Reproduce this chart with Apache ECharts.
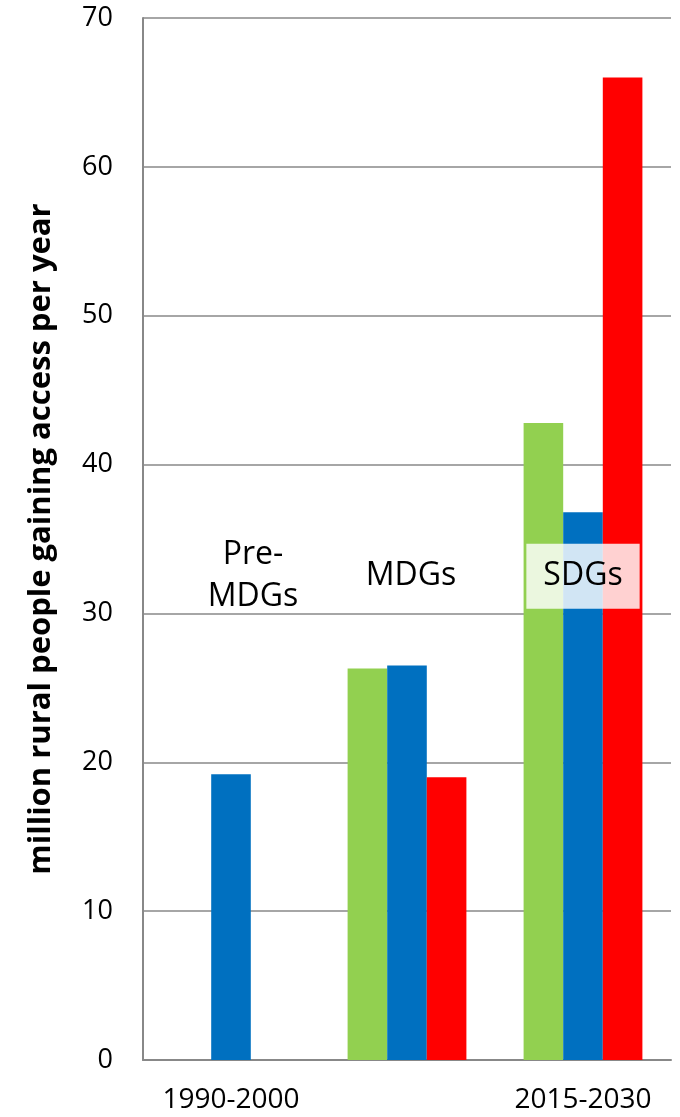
<!DOCTYPE html>
<html>
<head>
<meta charset="utf-8">
<script src="https://cdn.jsdelivr.net/npm/echarts@6/dist/echarts.min.js"></script>
<style>
  html, body { margin: 0; padding: 0; background: #fff; }
  #chart { width: 680px; height: 1117px; }
</style>
</head>
<body>
<div id="chart"></div>
<script>
// Periods on the x axis (the middle period carries no tick label)
const categories = ['1990-2000', '', '2015-2030'];
// Million rural people gaining access per year, per period
const greenValues = [null, 26.3, 42.8];
const blueValues = [19.2, 26.5, 36.8];
const redValues = [null, 19.0, 66.0];
// Period annotations: [category index, y value, text]
const periodNotes = [
  [0, 32.5, 'Pre-\nMDGs'],
  [1, 32.5, 'MDGs'],
  [2, 32.5, 'SDGs']
];
const yTicks = { min: 0, max: 70, interval: 10 };

const FONT = '"Open Sans", "Noto Sans", sans-serif';
const chart = echarts.init(document.getElementById('chart'));

const barSeries = (name, data, color) => ({
  name, type: 'bar', data,
  barGap: '0%', barCategoryGap: '32.5%',
  itemStyle: { color },
  emphasis: { disabled: true }
});

chart.setOption({
  animation: false,
  grid: { left: 143, right: 9, top: 18, bottom: 57, containLabel: false },
  xAxis: {
    type: 'category', data: categories,
    axisLine: { lineStyle: { color: '#888', width: 2 } },
    axisTick: { show: false },
    axisLabel: { color: '#000', fontSize: 28, fontFamily: FONT, margin: 26 }
  },
  yAxis: {
    type: 'value', min: yTicks.min, max: yTicks.max, interval: yTicks.interval,
    name: 'million rural people gaining access per year',
    nameLocation: 'middle', nameGap: 86,
    nameTextStyle: { color: '#000', fontSize: 31, fontWeight: 'bold', fontFamily: FONT },
    axisLine: { show: true, lineStyle: { color: '#888', width: 2 } },
    axisTick: { show: false },
    axisLabel: { color: '#000', fontSize: 27, fontFamily: FONT, margin: 30 },
    splitLine: { lineStyle: { color: '#888', width: 1.5 } }
  },
  series: [
    barSeries('green', greenValues, '#92D050'),
    barSeries('blue', blueValues, '#0070C0'),
    barSeries('red', redValues, '#FF0000')
  ]
});

// Place the period annotations in data coordinates
const offsets = [22, 4, 0];
const notes = periodNotes.map(([ci, yv, text], i) => {
  const [px, py] = chart.convertToPixel({ gridIndex: 0 }, [ci, yv]);
  const boxed = i === 2;
  return {
    type: 'text', x: px + offsets[i], y: py, z: 10,
    style: {
      text, fill: '#000', fontSize: 32, fontFamily: FONT, lineHeight: 42,
      align: 'center', verticalAlign: 'middle',
      backgroundColor: boxed ? 'rgba(255,255,255,0.82)' : 'transparent',
      padding: boxed ? [11, 17, 12, 17] : 0
    }
  };
});
chart.setOption({ graphic: notes });
</script>
</body>
</html>
